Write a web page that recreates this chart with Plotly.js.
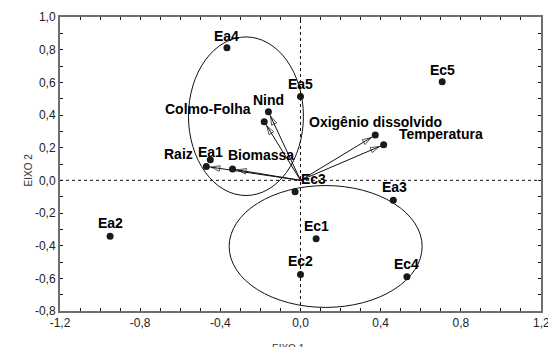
<!DOCTYPE html>
<html>
<head>
<meta charset="utf-8">
<script src="https://cdn.plot.ly/plotly-3.0.1.min.js"></script>
<style>html,body{margin:0;padding:0;background:#fff;}#chart{width:548px;height:347px;}</style>
</head>
<body>
<div id="chart"></div>
<script>
// Sample scores
const samples = ['Ea1','Ea2','Ea3','Ea4','Ea5','Ec1','Ec2','Ec3','Ec4','Ec5'];
const sampleX = [-0.45,-0.95,0.463,-0.367,0.0,0.078,0.0,-0.027,0.531,0.707];
const sampleY = [0.126,-0.343,-0.122,0.811,0.514,-0.357,-0.576,-0.07,-0.59,0.604];

// Variable vectors
const variables = ['Nind','Colmo-Folha','Raiz','Biomassa','Oxigênio dissolvido','Temperatura'];
const varX = [-0.16,-0.181,-0.47,-0.339,0.373,0.415];
const varY = [0.42,0.359,0.085,0.069,0.277,0.218];

// Group ellipses (bounding boxes in axis units)
const ellipseX0 = [-0.559,-0.356];
const ellipseX1 = [0.0145,0.607];
const ellipseY0 = [-0.093,-0.778];
const ellipseY1 = [0.878,-0.032];

// Tick labels
const xTickVals = [-1.2,-0.8,-0.4,0,0.4,0.8,1.2];
const xTickText = ['-1,2','-0,8','-0,4','0,0','0,4','0,8','1,2'];
const yTickVals = [-0.8,-0.6,-0.4,-0.2,0,0.2,0.4,0.6,0.8,1.0];
const yTickText = ['-0,8','-0,6','-0,4','-0,2','0,0','0,2','0,4','0,6','0,8','1,0'];

// Label pixel offsets (styling)
const sampleLabelShift = [[0,8],[0,13],[1,13],[0,12],[0,12],[0,13],[0,13],[18,13],[0,13],[0,12]];
const varLabelShift = [[0,12],[-56,13],[-28,12],[28,14],[0,13],[57,11]];

const baseFont = 'Liberation Sans, Arial, sans-serif';
const traces = [];
variables.forEach((v,i) => {
  traces.push({
    x:[0,varX[i]], y:[0,varY[i]], type:'scatter', mode:'lines+markers',
    line:{color:'#111', width:1, backoff:'auto'},
    marker:{symbol:['circle','arrow-open'], size:[0,9], angleref:'previous', standoff:5,
            color:'#111', line:{color:'#111', width:1}},
    hoverinfo:'skip', showlegend:false
  });
});
traces.push({
  x: sampleX.concat(varX), y: sampleY.concat(varY), type:'scatter', mode:'markers',
  marker:{size:7, color:'#1a1a1a'}, showlegend:false
});

const labelFont = {family:baseFont, size:14, color:'#000', weight:'bold'};
const annotations = [];
samples.forEach((s,i) => annotations.push({
  x:sampleX[i], y:sampleY[i], xref:'x', yref:'y', text:'<b>'+s+'</b>', showarrow:false,
  xshift:sampleLabelShift[i][0], yshift:sampleLabelShift[i][1], font:labelFont
}));
variables.forEach((s,i) => annotations.push({
  x:varX[i], y:varY[i], xref:'x', yref:'y', text:'<b>'+s+'</b>', showarrow:false,
  xshift:varLabelShift[i][0], yshift:varLabelShift[i][1], font:labelFont
}));
// last x tick label (Plotly hides it because it overflows the page edge)
const lastX = xTickVals.length - 1;
annotations.push({x:xTickVals[lastX], xref:'x', yref:'paper', y:0, yanchor:'top', yshift:-3, showarrow:false,
  text:xTickText[lastX], font:{family:baseFont, size:12, color:'#222'}});
annotations.push({xref:'paper', yref:'paper', x:0.475, y:0, yshift:-30, yanchor:'top', showarrow:false,
  text:'EIXO 1', font:{family:baseFont, size:10, color:'#333'}});
annotations.push({xref:'paper', yref:'paper', x:0, xshift:-39, y:0.48, textangle:-90, showarrow:false,
  text:'EIXO 2', font:{family:baseFont, size:10, color:'#333'}});

const shapes = [
  {type:'line', xref:'x', yref:'paper', x0:0, x1:0, y0:0, y1:1, line:{color:'#111', width:1, dash:'dot'}},
  {type:'line', xref:'paper', yref:'y', x0:0, x1:1, y0:0, y1:0, line:{color:'#111', width:1, dash:'dot'}}
];
ellipseX0.forEach((_,i) => shapes.push({type:'circle', xref:'x', yref:'y',
  x0:ellipseX0[i], x1:ellipseX1[i], y0:ellipseY0[i], y1:ellipseY1[i], line:{color:'#111', width:1}}));

const axisCommon = {
  showgrid:false, zeroline:false, showline:true, linecolor:'#6e6e6e', linewidth:2, mirror:'ticks',
  ticks:'inside', ticklen:3, tickcolor:'#111', tickwidth:1,
  tickfont:{family:baseFont, size:12, color:'#222'}
};
const layout = {
  width:548, height:347, margin:{l:60, r:7, t:17, b:36},
  paper_bgcolor:'#fff', plot_bgcolor:'#fff', showlegend:false,
  xaxis:Object.assign({}, axisCommon, {range:[-1.2,1.2], tickmode:'array', tickvals:xTickVals, ticktext:xTickText,
    minor:{dtick:0.1, tick0:0, ticks:'inside', ticklen:3, tickcolor:'#111', showgrid:false}}),
  yaxis:Object.assign({}, axisCommon, {range:[-0.8,1.0], tickmode:'array', tickvals:yTickVals, ticktext:yTickText,
    minor:{dtick:0.1, tick0:0, ticks:'inside', ticklen:3, tickcolor:'#111', showgrid:false}}),
  shapes:shapes, annotations:annotations
};
Plotly.newPlot('chart', traces, layout, {staticPlot:true, displayModeBar:false});
</script>
</body>
</html>
